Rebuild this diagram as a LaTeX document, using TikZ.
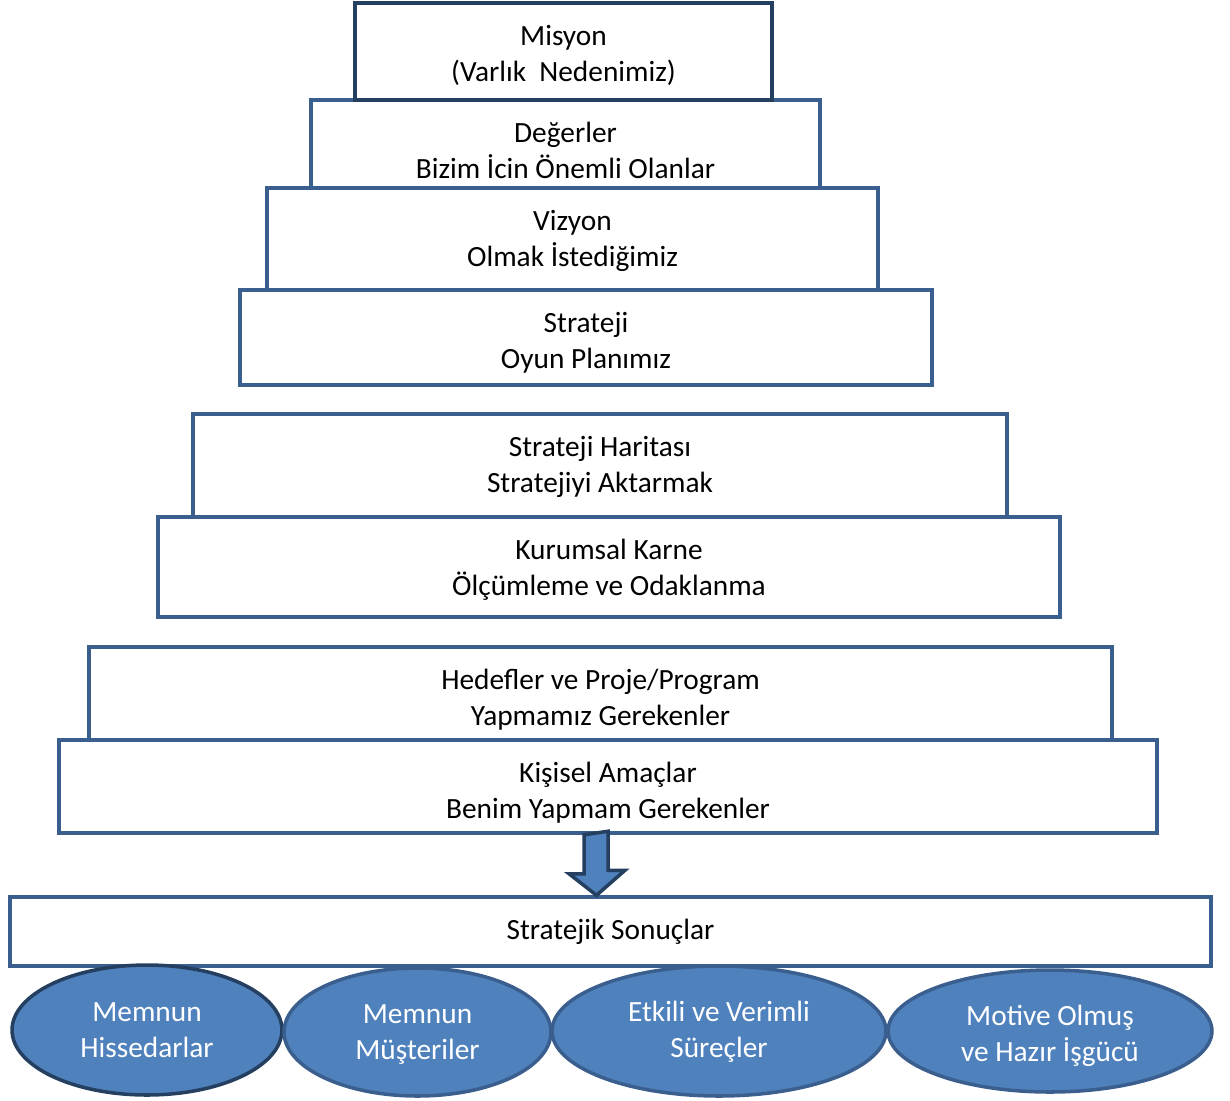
\documentclass[tikz,border=0pt]{standalone}
\usepackage{fontspec}
\setmainfont{Carlito}
\usepackage{xcolor}
\usepackage{tikz}
\usetikzlibrary{positioning,calc,shapes.geometric}
\definecolor{edge}{HTML}{3A5F8E}
\definecolor{deepedge}{HTML}{243F60}
\definecolor{steel}{HTML}{4F81BD}
\newcommand{\boxlines}[1]{\begin{tabular}[t]{@{}c@{}}#1\end{tabular}}
\tikzset{
  levelbox/.style={draw=edge, line width=2pt, fill=white, inner sep=0pt, text height=0.84cm, font=\fontsize{16.7}{20.5}\selectfont},
  topbox/.style={levelbox, draw=deepedge},
  goalellipse/.style={ellipse, draw=edge, line width=2pt, fill=steel, inner sep=0pt, text=white, font=\fontsize{16.7}{21}\selectfont},
  blockarrow/.style={draw=deepedge, line width=2pt, fill=steel, line join=miter}
}
\begin{document}
\begin{tikzpicture}[x=0.02cm, y=-0.02cm]
  \useasboundingbox (0,0) rectangle (1230,1100);
  % lower levels first, upper boxes on top
  \node[levelbox, minimum width=24.02cm, text depth=0.54cm] (results) at (610.5,931.5) {\boxlines{Stratejik Sonuçlar}};
  \node[levelbox, minimum width=21.96cm, text depth=1.02cm] (personal) at (608,786.5) {\boxlines{Kişisel Amaçlar\\Benim Yapmam Gerekenler}};
  \node[levelbox, minimum width=20.46cm, text depth=1.02cm] (targets) at (600.5,693.5) {\boxlines{Hedefler ve Proje/Program\\Yapmamız Gerekenler}};
  \node[levelbox, minimum width=18.04cm, text depth=1.16cm] (scorecard) at (609,567) {\boxlines{Kurumsal Karne\\Ölçümleme ve Odaklanma}};
  \node[levelbox, minimum width=16.28cm, text depth=1.22cm] (stratmap) at (600,465.5) {\boxlines{Strateji Haritası\\Stratejiyi Aktarmak}};
  \node[levelbox, minimum width=13.84cm, text depth=1.06cm] (strategy) at (586,337.5) {\boxlines{Strateji\\Oyun Planımız}};
  \node[levelbox, minimum width=12.22cm, text depth=1.20cm] (vision) at (572.5,239) {\boxlines{Vizyon\\Olmak İstediğimiz}};
  \node[levelbox, minimum width=10.18cm, text depth=0.92cm] (values) at (565.5,144) {\boxlines{Değerler\\Bizim İcin Önemli Olanlar}};
  \node[topbox, minimum width=8.34cm, text depth=1.10cm] (mission) at (563.5,51.5) {\boxlines{Misyon\\(Varlık~~Nedenimiz)}};
  % block arrow down to the results
  \draw[blockarrow] ($(personal.south)+(-24,0)$) -- ++(0,39) -- ++(-15,0) -- ($(results.north)+(-14,0)$) -- ++(28.5,-25) -- ++(-17,0) -- ++(0,-39) -- cycle;
  % perspectives
  \node[goalellipse, draw=deepedge, minimum width=5.4cm, minimum height=2.6cm, text height=0.50cm, text depth=0.86cm] (holders) at (147,1030) {\boxlines{Memnun\\Hissedarlar}};
  \node[goalellipse, minimum width=5.34cm, minimum height=2.56cm, text height=0.50cm, text depth=0.86cm] (customers) at (417.5,1032) {\boxlines{Memnun\\Müşteriler}};
  \node[goalellipse, minimum width=6.68cm, minimum height=2.6cm, text height=0.48cm, text depth=0.88cm] (processes) at (719,1031) {\boxlines{Etkili ve Verimli\\Süreçler}};
  \node[goalellipse, minimum width=6.48cm, minimum height=2.44cm, text height=0.56cm, text depth=0.80cm] (workforce) at (1050,1031) {\boxlines{Motive Olmuş\\ve Hazır İşgücü}};
\end{tikzpicture}
\end{document}
